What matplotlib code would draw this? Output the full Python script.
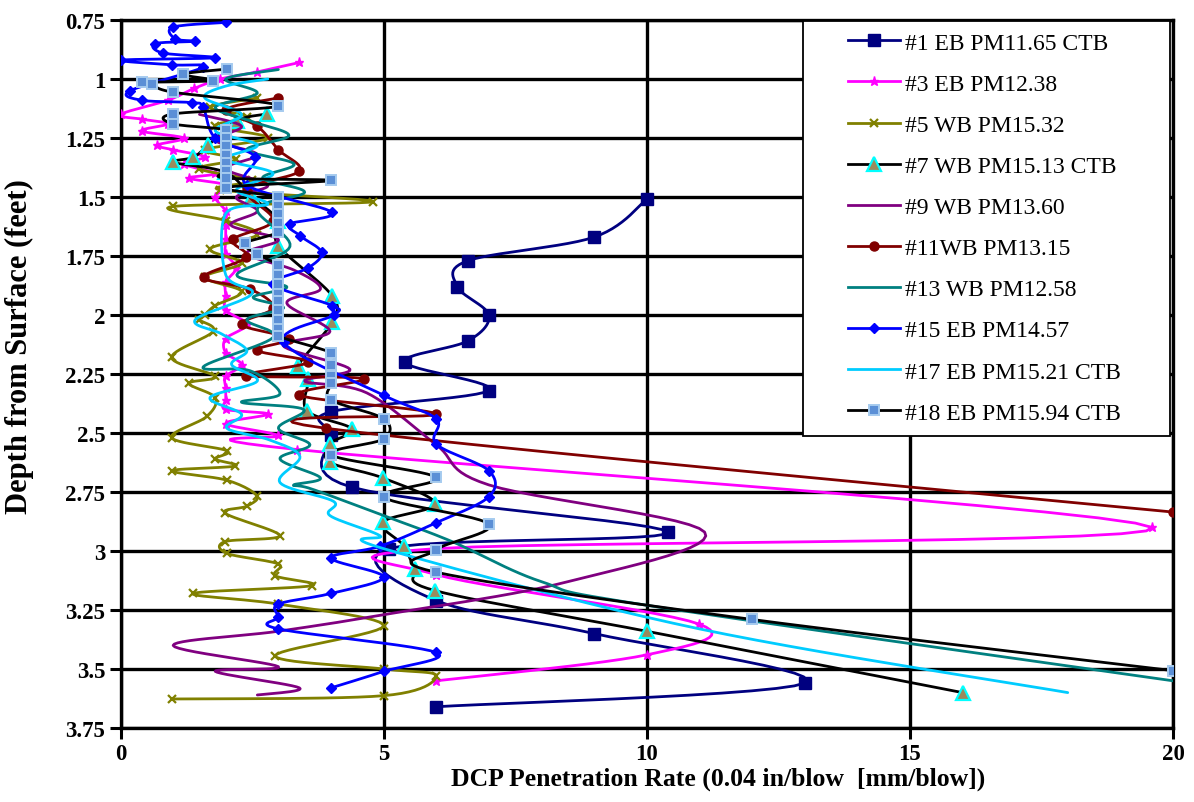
import numpy as np
import matplotlib
matplotlib.use("Agg")
import matplotlib.pyplot as plt
from matplotlib.lines import Line2D
from matplotlib.patches import Rectangle

plt.rcParams['font.family'] = ['Liberation Serif', 'DejaVu Serif']

# ---------------- data (rate, depth) ----------------
names = ["#1 EB PM11.65 CTB", "#3 EB PM12.38", "#5 WB PM15.32", "#7 WB PM15.13 CTB",
         "#9 WB PM13.60", "#11WB PM13.15", "#13 WB PM12.58", "#15 EB PM14.57",
         "#17 EB PM15.21 CTB", "#18 EB PM15.94 CTB"]

x1 = [10.0, 9.0, 6.6, 6.4, 7.0, 6.6, 5.4, 7.0, 4.0, 4.0, 4.4, 10.4, 5.1, 6.0, 9.0, 13.0, 6.0]
d1 = [1.51, 1.67, 1.77, 1.88, 2.0, 2.11, 2.2, 2.32, 2.41, 2.51, 2.73, 2.92, 2.99, 3.21, 3.35, 3.56, 3.66]

x3 = [3.4, 2.6, 1.9, 1.4, 0.9, 0.0, 0.4, 0.9, 0.4, 1.2, 0.7, 1.0, 1.6, 1.2, 1.8, 1.3, 2.0, 1.8, 2.0, 2.0,
      2.0, 2.0, 2.2, 2.0, 2.0, 2.0, 2.4, 2.0, 2.0, 2.3, 2.0, 2.0, 2.0, 2.0, 2.8, 2.0, 3.0, 3.35, 19.6, 6.0,
      6.0, 11.0, 10.0, 6.0]
d3 = [0.93, 0.97, 1.0, 1.04, 1.09, 1.15, 1.17, 1.19, 1.22, 1.25, 1.28, 1.30, 1.33, 1.36, 1.40, 1.42, 1.45, 1.50, 1.56, 1.62,
      1.68, 1.74, 1.80, 1.86, 1.92, 1.98, 2.04, 2.10, 2.16, 2.21, 2.26, 2.31, 2.36, 2.40, 2.42, 2.46, 2.51, 2.57, 2.90, 2.99,
      3.10, 3.31, 3.44, 3.55]

x5 = [2.6, 1.7, 2.4, 1.8, 2.8, 1.6, 2.2, 1.5, 2.5, 1.9, 4.8, 1.0, 2.0, 2.6, 1.7, 2.3, 1.6, 2.3, 1.8, 1.6,
      1.5, 1.76, 0.97, 1.8, 1.3, 1.8, 1.64, 0.97, 2.02, 1.8, 2.18, 0.97, 2.02, 2.59, 2.40, 1.99, 3.03, 1.99, 2.02, 3.0,
      2.94, 3.63, 1.38, 3.0, 5.0, 2.94, 5.0, 6.0, 5.0, 0.97]
d5 = [1.08, 1.12, 1.16, 1.20, 1.25, 1.30, 1.34, 1.38, 1.43, 1.47, 1.52, 1.54, 1.60, 1.66, 1.72, 1.78, 1.84, 1.90, 1.96, 2.00,
      2.02, 2.07, 2.18, 2.26, 2.29, 2.35, 2.43, 2.52, 2.575, 2.61, 2.64, 2.66, 2.70, 2.765, 2.81, 2.84, 2.935, 2.96, 3.01, 3.055,
      3.105, 3.147, 3.18, 3.225, 3.317, 3.444, 3.50, 3.528, 3.613, 3.627]

x7 = [2.78, 2.21, 1.67, 1.38, 1.0, 1.99, 2.5, 3.0, 3.0, 4.02, 4.02, 3.38, 3.57, 3.54, 4.4, 3.98, 3.98, 4.98, 5.98, 4.98,
      5.38, 5.6, 5.98, 10.0, 16.0]
d7 = [1.148, 1.177, 1.28, 1.332, 1.353, 1.395, 1.5, 1.6, 1.706, 1.918, 2.03, 2.215, 2.27, 2.405, 2.483, 2.546, 2.624, 2.69, 2.80, 2.878,
      2.977, 3.076, 3.168, 3.34, 3.60]

x9 = [1.5, 2.3, 1.8, 2.6, 2.0, 2.8, 2.2, 2.6, 2.1, 3.0, 2.4, 3.3, 3.8, 3.16, 3.98, 3.09, 4.36, 3.5, 4.68, 6.0,
      7.0, 11.1, 8.5, 5.0, 3.0, 1.0, 3.0, 1.8, 3.4, 2.6]
d9 = [1.15, 1.2, 1.26, 1.32, 1.38, 1.45, 1.5, 1.56, 1.62, 1.68, 1.74, 1.81, 1.89, 1.95, 2.07, 2.13, 2.23, 2.28, 2.33, 2.55,
      2.72, 2.92, 3.13, 3.27, 3.34, 3.40, 3.49, 3.51, 3.58, 3.61]

x11 = [3.0, 2.0, 2.6, 3.0, 3.4, 2.4, 2.9, 2.14, 2.39, 1.58, 2.46, 2.9, 2.3, 3.2, 2.6, 3.57, 2.39, 4.62, 3.4, 6.0,
       3.9, 20.0]
d11 = [1.08, 1.13, 1.2, 1.3, 1.39, 1.47, 1.6, 1.68, 1.755, 1.84, 1.89, 1.97, 2.04, 2.1, 2.15, 2.2, 2.257, 2.27, 2.34, 2.42,
       2.48, 2.835]

x13 = [3.0, 2.0, 2.6, 1.8, 2.5, 3.2, 2.4, 3.3, 2.7, 3.5, 2.6, 3.22, 2.21, 3.16, 2.52, 3.1, 2.4, 2.9, 1.57, 2.46,
       3.03, 2.3, 3.48, 3.0, 3.6, 3.03, 3.8, 3.29, 3.63, 5.0, 6.3, 8.0, 10.0, 20.0]
d13 = [0.96, 1.0, 1.06, 1.12, 1.18, 1.24, 1.3, 1.36, 1.42, 1.48, 1.55, 1.71, 1.83, 1.88, 1.925, 1.97, 2.02, 2.095, 2.22, 2.236,
       2.335, 2.37, 2.40, 2.48, 2.55, 2.61, 2.69, 2.72, 2.737, 2.85, 2.96, 3.13, 3.23, 3.55]

x15 = [2.0, 1.0, 1.04, 1.42, 0.66, 0.81, 1.8, 0.0, 0.97, 1.57, 0.18, 0.4, 1.35, 1.57, 1.8, 2.56, 2.4, 4.02, 3.22, 3.41,
       3.82, 3.57, 2.9, 4.02, 4.05, 3.1, 5.0, 6.0, 6.0, 7.0, 7.0, 6.0, 4.93, 4.0, 5.0, 4.0, 3.0, 3.0, 3.0, 6.0,
       5.0, 4.0]
d15 = [0.76, 0.78, 0.83, 0.84, 0.85, 0.89, 0.91, 0.92, 0.94, 0.95, 1.05, 1.09, 1.10, 1.12, 1.25, 1.33, 1.45, 1.565, 1.614, 1.664,
       1.734, 1.80, 1.87, 1.96, 2.0, 2.116, 2.34, 2.44, 2.547, 2.66, 2.77, 2.88, 2.98, 3.03, 3.11, 3.18, 3.225, 3.28, 3.33, 3.43,
       3.51, 3.58]

x17 = [2.8, 2.0, 1.6, 2.3, 1.8, 2.6, 2.0, 2.9, 2.2, 2.8, 2.0, 2.0, 2.5, 1.42, 1.92, 2.4, 2.11, 2.6, 1.7, 2.3,
       2.02, 2.84, 3.41, 3.03, 4.05, 3.98, 4.93, 5.0, 11.0, 18.0]
d17 = [1.0, 1.03, 1.08, 1.15, 1.22, 1.28, 1.34, 1.4, 1.47, 1.53, 1.57, 1.83, 1.91, 2.02, 2.08, 2.15, 2.21, 2.28, 2.35, 2.42,
       2.48, 2.53, 2.60, 2.71, 2.79, 2.85, 2.935, 2.99, 3.33, 3.60]

x18 = [2.02, 1.19, 1.76, 0.40, 0.59, 1.0, 3.0, 1.0, 1.0, 2.0, 2.0, 2.0, 2.0, 2.0, 2.0, 2.0, 4.0, 2.0, 3.0, 3.0,
       3.0, 3.0, 3.0, 2.37, 2.59, 3.0, 3.0, 3.0, 3.0, 3.0, 3.0, 3.0, 3.0, 3.0, 4.0, 4.0, 4.0, 4.0, 4.0, 5.0,
       5.0, 4.0, 6.0, 5.0, 7.0, 6.0, 6.0, 12.0, 20.0]
d18 = [0.958, 0.98, 1.007, 1.014, 1.02, 1.056, 1.113, 1.148, 1.19, 1.215, 1.25, 1.285, 1.32, 1.355, 1.39, 1.42, 1.43, 1.46, 1.50, 1.54,
       1.57, 1.61, 1.65, 1.696, 1.74, 1.79, 1.83, 1.87, 1.91, 1.94, 1.98, 2.02, 2.06, 2.09, 2.16, 2.21, 2.26, 2.29, 2.36, 2.44,
       2.525, 2.593, 2.688, 2.772, 2.886, 2.995, 3.09, 3.29, 3.507]

xs = [x1, x3, x5, x7, x9, x11, x13, x15, x17, x18]
ds = [d1, d3, d5, d7, d9, d11, d13, d15, d17, d18]

x_ticks = [0, 5, 10, 15, 20]
y_ticks = [0.75, 1, 1.25, 1.5, 1.75, 2, 2.25, 2.5, 2.75, 3, 3.25, 3.5, 3.75]

# ---------------- styles ----------------
styles = [
    dict(color='#000080', marker='s', ms=9, mfc='#000080', mec='#000080', mew=1),
    dict(color='#FF00FF', marker='*', ms=6.5, mfc='#FF00FF', mec='#FF00FF', mew=1),
    dict(color='#808000', marker='x', ms=5.5, mfc='#808000', mec='#808000', mew=1.6),
    dict(color='#000000', marker='^', ms=10.5, mfc='#9A8A5C', mec='#00FFFF', mew=1.6),
    dict(color='#800080', marker=None),
    dict(color='#800000', marker='o', ms=6.5, mfc='#800000', mec='#800000', mew=1),
    dict(color='#008080', marker=None),
    dict(color='#0000FF', marker='D', ms=5, mfc='#0000FF', mec='#0000FF', mew=1),
    dict(color='#00CCFF', marker=None),
    dict(color='#000000', marker='s', ms=7.5, mfc='#5B8FD6', mec='#A6CBEF', mew=1.4),
]


def smooth(x, y, n=14):
    """Excel-style smoothed line (uniform Catmull-Rom / Bezier) through the data points."""
    x = np.asarray(x, float)
    y = np.asarray(y, float)
    P = np.column_stack([x, y])
    if len(P) < 3:
        return x, y
    Pext = np.vstack([P[0], P, P[-1]])
    t = np.linspace(0, 1, n)[:, None]
    out = []
    for i in range(1, len(Pext) - 2):
        p0, p1, p2, p3 = Pext[i - 1], Pext[i], Pext[i + 1], Pext[i + 2]
        b1 = p1 + (p2 - p0) / 6.0
        b2 = p2 - (p3 - p1) / 6.0
        seg = ((1 - t) ** 3) * p1 + 3 * ((1 - t) ** 2) * t * b1 + 3 * (1 - t) * t ** 2 * b2 + t ** 3 * p2
        if out:
            seg = seg[1:]
        out.append(seg)
    S = np.vstack(out)
    return S[:, 0], S[:, 1]


W, H = 1194, 803
fig = plt.figure(figsize=(W / 100, H / 100), dpi=100)
ax = fig.add_axes([120.5 / W, 1 - 729 / H, (1173 - 120.5) / W, (729 - 21) / H])

for i, (x, d, st) in enumerate(zip(xs, ds, styles)):
    sx, sy = smooth(x, d)
    ax.plot(sx, sy, color=st['color'], lw=2.0, zorder=3 + i * 0.1, solid_capstyle='round')
    if st['marker']:
        ax.plot(x, d, ls='none', marker=st['marker'], ms=st['ms'], mfc=st['mfc'],
                mec=st['mec'], mew=st['mew'], zorder=3.05 + i * 0.1)

ax.set_xlim(0, 20)
ax.set_ylim(3.75, 0.75)
ax.set_xticks(x_ticks)
ax.set_yticks(y_ticks)
ax.set_yticklabels([('%g' % v) for v in y_ticks])
ax.grid(True, color='black', lw=2.4, zorder=1)
ax.set_axisbelow(True)
for s in ax.spines.values():
    s.set_linewidth(2.4)
ax.tick_params(axis='both', direction='out', length=8, width=2.2, labelsize=16.5, pad=3)
for lab in ax.get_xticklabels() + ax.get_yticklabels():
    lab.set_fontweight('bold')

ax.set_xlabel('DCP Penetration Rate (0.04 in/blow  [mm/blow])', fontsize=18.5, fontweight='bold', va='center')
ax.xaxis.set_label_coords((718 - 120.5) / (1173 - 120.5), (729 - 779) / (729 - 21))
ax.set_ylabel('Depth from Surface (feet)', fontsize=22, fontweight='bold', va='center')
ax.yaxis.set_label_coords((19 - 120.5) / (1173 - 120.5), (729 - 347) / (729 - 21))

# legend box (Excel style, wide padding)
box = Rectangle((803 / W, 1 - 437 / H), (1170 - 803) / W, (437 - 22) / H, transform=fig.transFigure,
                facecolor='white', edgecolor='black', lw=1.3, zorder=9, clip_on=False)
ax.add_patch(box)

handles = []
for nm, st in zip(names, styles):
    h = Line2D([0], [0], color=st['color'], lw=2.0,
               marker=st['marker'] if st['marker'] else None,
               ms=st.get('ms', 0), mfc=st.get('mfc'), mec=st.get('mec'), mew=st.get('mew', 1))
    handles.append(h)
leg = ax.legend(handles, names, loc='upper left', bbox_to_anchor=(848 / W, 1 - 33 / H),
                bbox_transform=fig.transFigure, fontsize=17, frameon=False,
                handlelength=2.2, handletextpad=0.22, labelspacing=0.83,
                borderpad=0, borderaxespad=0)
leg.set_zorder(10)

fig.savefig('out.png', dpi=100)
